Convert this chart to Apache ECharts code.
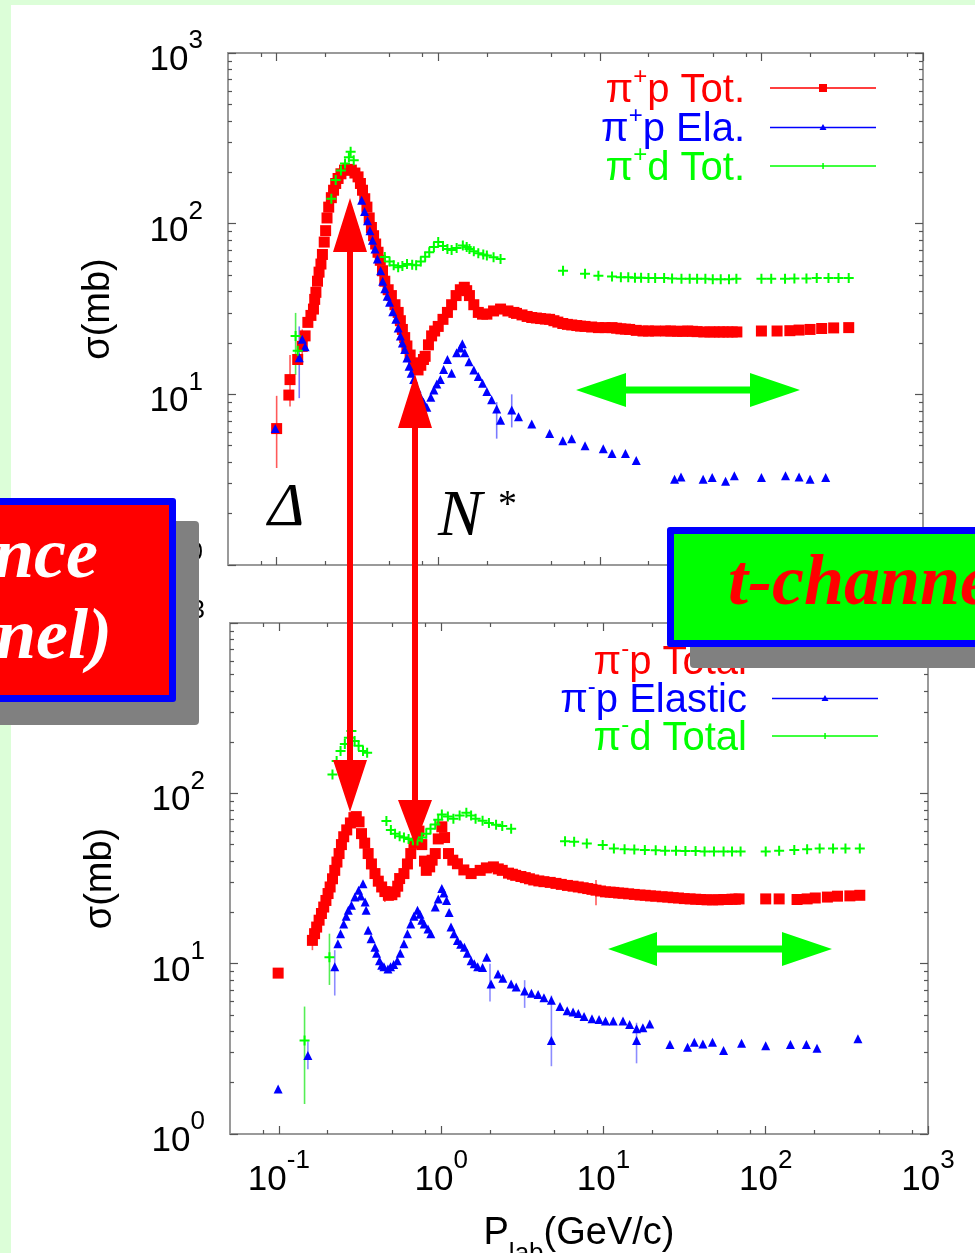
<!DOCTYPE html>
<html>
<head>
<meta charset="utf-8">
<script src="https://cdn.jsdelivr.net/npm/echarts@6/dist/echarts.min.js"></script>
<style>
html,body{margin:0;padding:0;background:#fff;}
#c{width:975px;height:1253px;}
</style>
</head>
<body>
<div id="c"></div>
<script>
// ---------------- data ----------------
const xTickValues = [0.1, 1, 10, 100, 1000];
const yTickValues = [1, 10, 100, 1000];
const xMinorMultipliers = [2, 5, 8];
const yMinorMultipliers = [2, 3, 4, 5, 6, 7, 8, 9];

const topNames = ['π+p Tot.', 'π+p Ela.', 'π+d Tot.'];
const botNames = ['π-p Total', 'π-p Elastic', 'π-d Total'];
const topLegendLabels = [['π', '+', 'p Tot.'], ['π', '+', 'p Ela.'], ['π', '+', 'd Tot.']];
const botLegendLabels = [['π', '-', 'p Total'], ['π', '-', 'p Elastic'], ['π', '-', 'd Total']];

// top panel : pi+ p total  [P_lab GeV/c, sigma mb]
const pipTot = [[0.1,6.3],[0.119,9.9],[0.121,12.2],[0.135,16],[0.144,19.1],[0.15,22],[0.156,26.4],[0.163,29],[0.169,31.6],[0.172,36],[0.175,39.6],[0.179,46],[0.183,52],[0.188,58],[0.192,66],[0.197,78],[0.201,91],[0.205,108],[0.21,125],[0.218,142],[0.225,157],[0.232,172],[0.24,184],[0.25,196],[0.263,206],[0.276,208],[0.29,206],[0.305,198],[0.319,188],[0.33,172],[0.34,157],[0.351,140],[0.362,125],[0.374,108],[0.386,95],[0.398,85],[0.41,76],[0.424,68],[0.438,61],[0.452,53],[0.467,46],[0.49,41],[0.513,37.9],[0.54,33.5],[0.565,30.2],[0.583,27],[0.6,24],[0.62,21.5],[0.64,19.2],[0.67,17],[0.705,15.3],[0.73,14.4],[0.75,13.9],[0.78,14.8],[0.81,16],[0.83,16.7],[0.87,19.5],[0.91,22],[0.95,23.5],[1.0,25],[1.07,27.5],[1.14,30.2],[1.21,33.5],[1.29,37.9],[1.37,41],[1.45,42.4],[1.5,40.5],[1.56,37.9],[1.66,33.5],[1.77,30.2],[1.88,29.5],[2.0,29.5],[2.2,30.8],[2.43,31.6],[2.7,30.8],[2.94,30.2],[3.05,29.8],[3.3,29.2],[3.55,28.6],[3.79,28.2],[4.05,28],[4.3,27.8],[4.6,27.6],[4.89,27.5],[5.2,27],[5.5,26.5],[5.9,26],[6.3,25.7],[6.7,25.5],[7.2,25.3],[7.6,25.1],[8.1,25],[8.9,24.8],[9.8,24.6],[10.8,24.6],[11.9,24.6],[12.7,24.4],[13.5,24.2],[14.4,24.1],[15.3,24],[16.8,23.7],[18.5,23.5],[20,23.5],[22,23.5],[25.5,23.5],[27.5,23.5],[30,23.4],[32.5,23.4],[35,23.5],[37.5,23.4],[40,23.3],[44,23.2],[48,23.2],[51,23.2],[55,23.2],[58,23.2],[62,23.2],[66,23.2],[70.5,23.2],[100,23.5],[125,23.5],[150,23.6],[171,23.8],[200,24],[236,24.3],[280,24.5],[347,24.6]];
// top panel : pi+ p elastic
const pipEla = [[0.098,6.3],[0.138,16.4],[0.144,21],[0.15,19],[0.336,137],[0.35,118],[0.365,104],[0.378,91],[0.392,80],[0.406,71],[0.42,62],[0.44,53],[0.453,46],[0.467,41.5],[0.483,37.5],[0.5,34.6],[0.523,30.5],[0.547,27.5],[0.565,24.5],[0.583,22],[0.6,20],[0.62,18.3],[0.64,16.3],[0.66,14.6],[0.68,13.3],[0.705,12.2],[0.74,10.8],[0.775,9.7],[0.81,9.0],[0.85,8.4],[0.9,9.6],[0.94,10.6],[0.98,11.5],[1.03,12.2],[1.08,14],[1.14,16],[1.21,13.3],[1.3,17.5],[1.37,18.7],[1.41,19.8],[1.46,17.5],[1.55,15.5],[1.66,13.9],[1.77,12.7],[1.88,11.6],[2.0,10.4],[2.14,9.3],[2.3,8.2],[2.43,7.05],[2.85,8.1],[3.14,7.4],[3.79,6.7],[4.89,5.9],[5.9,5.35],[6.7,5.5],[8.1,5.0],[10.5,4.8],[11.9,4.5],[14.4,4.5],[16.8,4.1],[29,3.18],[31.8,3.28],[43.6,3.18],[49.6,3.26],[60,3.1],[68,3.33],[100,3.26],[141,3.33],[171,3.28],[200,3.18],[250,3.26]];
// top panel : pi+ d total
const pidTot = [[0.131,22],[0.135,18],[0.218,140],[0.232,180],[0.25,205],[0.265,225],[0.28,245],[0.287,264],[0.3,235],[0.467,63.7],[0.5,60],[0.53,57],[0.565,55.6],[0.6,56.5],[0.641,58],[0.69,57.5],[0.73,57],[0.78,60],[0.83,64],[0.88,68],[0.94,73],[1.0,78],[1.07,74],[1.14,71],[1.21,70],[1.3,72],[1.42,74.5],[1.5,73],[1.56,71],[1.66,69],[1.77,67],[1.9,66],[2.0,65],[2.2,63.5],[2.43,62],[5.92,53],[8.1,50.8],[9.8,49.6],[11.9,49],[13.5,48.5],[15,48.5],[16.5,48.2],[18,48.2],[20,48],[22,48],[25,48],[28,47.8],[32,47.5],[36,47.5],[40,47.5],[45,47.5],[50,47.3],[56,47.3],[63,47.3],[70,47.5],[100,47.5],[115,47.5],[140,47.5],[160,47.8],[190,47.8],[220,48],[260,48],[300,48],[347,48]];

// bottom panel : pi- p total
const pimTot = [[0.099,8.8],[0.161,13.7],[0.166,15],[0.171,16.4],[0.177,18],[0.183,19.7],[0.189,21.5],[0.195,23.5],[0.201,25.8],[0.207,28.2],[0.214,31.5],[0.221,35.3],[0.228,39.5],[0.235,44.3],[0.243,50],[0.251,55.6],[0.262,61],[0.276,67],[0.29,72],[0.3,73],[0.312,68],[0.323,58],[0.338,51],[0.355,44.3],[0.372,38.5],[0.391,33.8],[0.41,30.5],[0.43,28.2],[0.45,26.5],[0.473,25.2],[0.497,25.4],[0.52,26.4],[0.54,28.5],[0.555,31.6],[0.59,33.8],[0.62,38.5],[0.65,44.3],[0.68,51],[0.715,58],[0.73,60],[0.76,50],[0.79,40],[0.81,35.3],[0.85,37],[0.88,40.5],[0.92,44.3],[0.96,54],[1.01,63.6],[1.05,55],[1.11,44.3],[1.18,40.5],[1.26,38.6],[1.38,35.5],[1.53,33.8],[1.74,35.3],[1.9,36.5],[2.1,37],[2.25,36],[2.38,35.3],[2.6,34],[2.75,33.5],[2.88,33],[3.1,32.5],[3.3,32],[3.5,31.5],[3.72,31],[4.0,30.6],[4.3,30.3],[4.7,30],[5.1,29.6],[5.5,29.2],[6.0,28.8],[6.5,28.5],[7.0,28.2],[7.5,27.9],[8.0,27.6],[8.5,27.3],[9.0,27],[9.6,26.7],[10.3,26.4],[11,26.3],[11.6,26.2],[12.4,26],[13.2,25.9],[14.3,25.7],[15.5,25.5],[16.8,25.3],[18.1,25.2],[19.5,25],[21,24.9],[23,24.7],[24.9,24.6],[26.9,24.4],[29,24.3],[31.5,24.1],[34.2,24],[37,23.9],[40,23.8],[43.5,23.7],[47,23.7],[51,23.7],[55,23.8],[58,23.8],[62,23.9],[65,23.9],[68.5,24],[100,24],[121,24],[156,23.8],[180,24],[202,24.3],[240,24.6],[277,24.9],[330,25],[380,25.2]];
// bottom panel : pi- p elastic
const pimEla = [[0.099,1.84],[0.151,2.89],[0.221,9.6],[0.231,13.1],[0.24,15],[0.251,17.1],[0.26,19],[0.268,20.6],[0.28,22],[0.294,24.6],[0.31,27],[0.32,25],[0.33,29.5],[0.34,23],[0.345,20.6],[0.355,15.7],[0.37,14],[0.391,12.5],[0.4,11.5],[0.417,10.4],[0.43,9.8],[0.444,9.6],[0.47,9.3],[0.488,9.6],[0.51,9.9],[0.537,10.4],[0.56,11.5],[0.59,13.1],[0.62,15],[0.65,17.1],[0.68,19],[0.715,20.6],[0.74,19.5],[0.76,18],[0.786,17.1],[0.83,16],[0.864,15],[0.92,21.5],[0.96,24],[1.01,27.6],[1.04,26],[1.08,23.5],[1.12,20],[1.15,16.4],[1.2,15],[1.26,13.7],[1.32,13],[1.39,12.5],[1.45,11.5],[1.53,10.4],[1.6,10],[1.68,9.6],[1.8,9.5],[1.91,10.9],[2.03,7.6],[2.24,8.7],[2.4,8.2],[2.7,7.6],[2.9,7.3],[3.27,6.9],[3.6,6.7],[3.96,6.6],[4.3,6.3],[4.78,6.1],[4.78,3.54],[5.4,5.6],[5.98,5.3],[6.5,5.2],[7.0,5.1],[7.6,4.9],[8.5,4.75],[9.4,4.7],[10.3,4.6],[11.5,4.6],[13.2,4.6],[14.5,4.4],[16,4.15],[16,3.54],[17.5,4.2],[19.3,4.43],[25.7,3.35],[33,3.23],[36.3,3.46],[41,3.38],[47,3.46],[55,3.09],[71,3.41],[100,3.3],[142,3.35],[178,3.35],[207,3.19],[370,3.62]];
// bottom panel : pi- d total
const pimdTot = [[0.144,3.54],[0.205,10.9],[0.214,129],[0.227,155],[0.24,177],[0.255,195],[0.27,212],[0.28,232],[0.293,203],[0.31,190],[0.33,177],[0.35,173],[0.46,68.7],[0.49,60.9],[0.52,58],[0.555,56],[0.59,55],[0.63,53.9],[0.67,53],[0.715,52.9],[0.76,55],[0.81,58],[0.86,62],[0.92,65.7],[0.96,70],[1.01,75],[1.1,73],[1.19,71],[1.3,74],[1.43,76.9],[1.53,74],[1.63,71],[1.8,69],[1.97,67],[2.18,65.5],[2.38,64.4],[2.7,62],[5.8,52.4],[6.6,52],[7.9,50.7],[9.9,49.8],[11.6,47.5],[13.5,47],[15.5,46.8],[18,46.5],[21,46.3],[24,46],[28,46],[32,45.8],[37,45.8],[42,45.6],[48,45.6],[55,45.5],[62,45.5],[70,45.5],[100,45.5],[121,46],[150,46.5],[180,47],[215,47.5],[260,47.5],[310,47.5],[380,47.5]];

// error bars [P_lab, low, high]
const errTopRed = [[0.1,3.7,9.8],[0.121,8.5,17],[0.144,15,24]];
const errTopBlue = [[0.138,9.5,25],[2.3,5.5,9.0],[2.85,6.4,10]];
const errTopGreen = [[0.131,13,30]];
const errBotRed = [[0.161,12,16],[9.0,22,31],[0.45,23,29]];
const errBotBlue = [[0.151,2.4,3.5],[0.221,6.5,12],[4.78,2.5,6.5],[16,2.6,4.5],[2.0,6.0,10],[3.27,5.5,8]];
const errBotGreen = [[0.144,1.5,5.6],[0.205,7.5,15]];

// ---------------- chart ----------------
const F = '"Liberation Sans", Arial, Helvetica, sans-serif';
const SERIF = '"Liberation Serif", "Times New Roman", serif';
const RED = '#ff0000', BLUE = '#0000ff', GREEN = '#00ff00';
const COLORS = [RED, BLUE, GREEN];

const xMinorValues = [];
for (let e = -2; e <= 2; e++) xMinorMultipliers.forEach(m => { const v = +(m * Math.pow(10, e)).toPrecision(6); if (v > 0.05 && v < 1000) xMinorValues.push(v); });
const yMinorValues = [];
for (let e = 0; e <= 2; e++) yMinorMultipliers.forEach(m => { yMinorValues.push(m * Math.pow(10, e)); });

const labelRich = {
  b: {fontSize: 35, lineHeight: 50, verticalAlign: 'bottom', fontFamily: F, color: '#000'},
  s: {fontSize: 26, lineHeight: 12, verticalAlign: 'top', fontFamily: F, color: '#000'}
};
function powLabel(v) {
  const e = Math.round(Math.log10(v));
  return '{b|10}{s|' + e + '}';
}

function mkX(gi, pos, vals, len, labels, name) {
  return {
    type: 'log', logBase: 10, gridIndex: gi, position: pos, min: 0.05, max: 1000,
    axisLine: {show: false}, splitLine: {show: false}, minorTick: {show: false},
    axisTick: {show: true, inside: true, length: len, customValues: vals, lineStyle: {color: '#555', width: 1.2}},
    axisLabel: {show: labels, customValues: xTickValues, margin: 14, formatter: powLabel, rich: labelRich},
    name: name, nameLocation: 'middle', nameGap: 81,
    nameTextStyle: {rich: {
      p: {fontSize: 38, lineHeight: 40, verticalAlign: 'top', fontFamily: F, color: '#000'},
      sub: {fontSize: 26, lineHeight: 52, verticalAlign: 'bottom', fontFamily: F, color: '#000'}
    }}
  };
}
function mkY(gi, pos, vals, len, labels, name) {
  return {
    type: 'log', logBase: 10, gridIndex: gi, position: pos, min: 1, max: 1000,
    axisLine: {show: false}, splitLine: {show: false}, minorTick: {show: false},
    axisTick: {show: true, inside: true, length: len, customValues: vals, lineStyle: {color: '#555', width: 1.2}},
    axisLabel: {show: labels, customValues: yTickValues, margin: 25, formatter: powLabel, rich: labelRich},
    name: name, nameLocation: 'middle', nameRotate: 90, nameGap: 110,
    nameTextStyle: {fontSize: 38, fontFamily: F, color: '#000'}
  };
}

const xAxes = [], yAxes = [];
[0, 1].forEach(gi => {
  const lab = gi === 1;
  xAxes.push(mkX(gi, 'bottom', xTickValues, 8, lab, lab ? '{p|P}{sub|lab}{p|(GeV/c)}' : ''));
  xAxes.push(mkX(gi, 'bottom', xMinorValues, 4, false, ''));
  xAxes.push(mkX(gi, 'top', xTickValues, 8, false, ''));
  xAxes.push(mkX(gi, 'top', xMinorValues, 4, false, ''));
  yAxes.push(mkY(gi, 'left', yTickValues, 8, true, 'σ(mb)'));
  yAxes.push(mkY(gi, 'left', yMinorValues, 4, false, ''));
  yAxes.push(mkY(gi, 'right', yTickValues, 8, false, ''));
  yAxes.push(mkY(gi, 'right', yMinorValues, 4, false, ''));
});

const PLUS = 'path://M4,0h2v4h4v2h-4v4h-2v-4h-4v-2h4z';
function sc(name, data, gi, color, symbol, size, z) {
  return {type: 'scatter', name, data, xAxisIndex: gi * 4, yAxisIndex: gi * 4, symbol, symbolSize: size,
    itemStyle: {color, opacity: 1, borderWidth: 0}, silent: true, z: z};
}
function eb(data, gi, color) {
  return {type: 'custom', data, xAxisIndex: gi * 4, yAxisIndex: gi * 4, silent: true, z: 1,
    encode: {x: 0, y: [1, 2]},
    renderItem: function (params, api) {
      const a = api.coord([api.value(0), api.value(1)]);
      const b = api.coord([api.value(0), api.value(2)]);
      return {type: 'line', shape: {x1: a[0], y1: a[1], x2: b[0], y2: b[1]}, style: {stroke: color, lineWidth: 1.6}};
    }};
}

const series = [
  eb(errTopRed, 0, '#ff5a5a'), eb(errTopBlue, 0, '#7a7aff'), eb(errTopGreen, 0, '#55ee55'),
  eb(errBotRed, 1, '#ff5a5a'), eb(errBotBlue, 1, '#8c8cff'), eb(errBotGreen, 1, '#55ee55'),
  sc(topNames[0], pipTot, 0, RED, 'rect', 11, 2),
  sc(topNames[1], pipEla, 0, BLUE, 'triangle', 9, 3),
  sc(topNames[2], pidTot, 0, GREEN, PLUS, 10, 4),
  sc(botNames[0], pimTot, 1, RED, 'rect', 11, 2),
  sc(botNames[1], pimEla, 1, BLUE, 'triangle', 9, 3),
  sc(botNames[2], pimdTot, 1, GREEN, PLUS, 10, 4)
];

const keys = ['r', 'b', 'g'];
const legendRich = {gap: {width: 20}};
[['r', RED], ['b', BLUE], ['g', GREEN]].forEach(([k, c]) => {
  legendRich[k] = {color: c, fontSize: 40, fontFamily: F, lineHeight: 46, verticalAlign: 'bottom'};
  legendRich[k + 's'] = {color: c, fontSize: 24, fontFamily: F, lineHeight: 10, verticalAlign: 'top'};
});
const allNames = topNames.concat(botNames);
const allLabels = topLegendLabels.concat(botLegendLabels);
function legendFmt(name) {
  const i = allNames.indexOf(name);
  const L = allLabels[i], k = keys[i % 3];
  return '{' + k + '|' + L[0] + '}{' + k + 's|' + L[1] + '}{' + k + '|' + L[2] + '}{gap| }';
}
const icons = [
  'path://M0,4.3h106v1.5h-106zM49,1h8v8h-8z',
  'path://M0,4.3h106v1.5h-106zM53,1.5l3.5,6h-7z',
  'path://M0,4.3h106v1.5h-106zM52.3,2h1.5v6h-1.5z'
];
function mkLegend(names, right, top, gap) {
  return {data: names.map((n, i) => ({name: n, icon: icons[i], itemStyle: {color: COLORS[i], borderWidth: 0, borderColor: COLORS[i]}})),
    orient: 'vertical', right: right, top: top,
    itemWidth: 106, itemHeight: 10, itemGap: gap, align: 'right', padding: 0, selectedMode: false,
    itemStyle: {borderWidth: 0}, lineStyle: {width: 0},
    formatter: legendFmt, textStyle: {fontFamily: F, fontSize: 40, rich: legendRich}};
}

function vArrow(x, t1, b1, b2, t2, color) {
  const h = 17, w = 3;
  return {type: 'polygon', z: 100, shape: {points: [[x, t1], [x + h, b1], [x + w, b1], [x + w, b2], [x + h, b2], [x, t2], [x - h, b2], [x - w, b2], [x - w, b1], [x - h, b1]]}, style: {fill: color}};
}
function hArrow(y, t1, b1, b2, t2, color) {
  const h = 17, w = 3.5;
  return {type: 'polygon', z: 100, shape: {points: [[t1, y], [b1, y - h], [b1, y - w], [b2, y - w], [b2, y - h], [t2, y], [b2, y + h], [b2, y + w], [b1, y + w], [b1, y + h]]}, style: {fill: color}};
}

const graphic = [
  {type: 'rect', z: 90, shape: {x: 0, y: 0, width: 975, height: 5}, style: {fill: '#dcfed8'}},
  {type: 'rect', z: 90, shape: {x: 0, y: 0, width: 11, height: 1253}, style: {fill: '#dcfed8'}},
  vArrow(350, 198, 252, 760, 812, RED),
  vArrow(415, 374, 428, 800, 845, RED),
  hArrow(390, 576, 626, 750, 800, GREEN),
  hArrow(949, 608, 657, 782, 832, GREEN),
  {type: 'text', z: 100, x: 268, y: 509, style: {text: 'Δ', font: 'italic 62px ' + SERIF, fill: '#000', align: 'left', verticalAlign: 'middle'}},
  {type: 'text', z: 100, x: 438, y: 518, style: {text: 'N', font: 'italic 66px ' + SERIF, fill: '#000', align: 'left', verticalAlign: 'middle'}},
  {type: 'text', z: 100, x: 498, y: 506, style: {text: '*', font: '38px ' + SERIF, fill: '#000', align: 'left', verticalAlign: 'middle'}},
  // left (s-channel) box
  {type: 'rect', z: 101, shape: {x: -20, y: 521, width: 219, height: 204, r: 4}, style: {fill: '#808080'}},
  {type: 'rect', z: 102, shape: {x: -20, y: 498, width: 196, height: 204, r: 3}, style: {fill: '#0000ff'}},
  {type: 'rect', z: 103, shape: {x: -20, y: 505, width: 189, height: 190}, style: {fill: '#ff0000'}},
  {type: 'text', z: 104, x: 98, y: 558, style: {text: 'Resonance', font: 'italic bold 72px ' + SERIF, fill: '#fff', align: 'right', verticalAlign: 'middle'}},
  {type: 'text', z: 104, x: 112, y: 639, style: {text: '(s-channel)', font: 'italic bold 72px ' + SERIF, fill: '#fff', align: 'right', verticalAlign: 'middle'}},
  // right (t-channel) box
  {type: 'rect', z: 101, shape: {x: 690, y: 549, width: 320, height: 119, r: 4}, style: {fill: '#808080'}},
  {type: 'rect', z: 102, shape: {x: 667, y: 527, width: 340, height: 120, r: 3}, style: {fill: '#0000ff'}},
  {type: 'rect', z: 103, shape: {x: 674, y: 534, width: 330, height: 106}, style: {fill: '#00ff00'}},
  {type: 'text', z: 104, x: 728, y: 585, style: {text: 't-channel', font: 'italic bold 72px ' + SERIF, fill: '#ff0000', align: 'left', verticalAlign: 'middle'}}
];

const chart = echarts.init(document.getElementById('c'), null, {renderer: 'canvas'});
chart.setOption({
  animation: false,
  backgroundColor: '#ffffff',
  textStyle: {fontFamily: F},
  grid: [
    {left: 228, top: 53, width: 695, height: 512, show: true, borderColor: '#9a9a9a', borderWidth: 2, backgroundColor: 'transparent', containLabel: false, outerBoundsMode: 'none'},
    {left: 230, top: 623, width: 698, height: 511, show: true, borderColor: '#9a9a9a', borderWidth: 2, backgroundColor: 'transparent', containLabel: false, outerBoundsMode: 'none'}
  ],
  xAxis: xAxes,
  yAxis: yAxes,
  legend: [mkLegend(topNames, 99, 65, -7), mkLegend(botNames, 97, 637, -8)],
  series: series,
  graphic: graphic
});
</script>
</body>
</html>
